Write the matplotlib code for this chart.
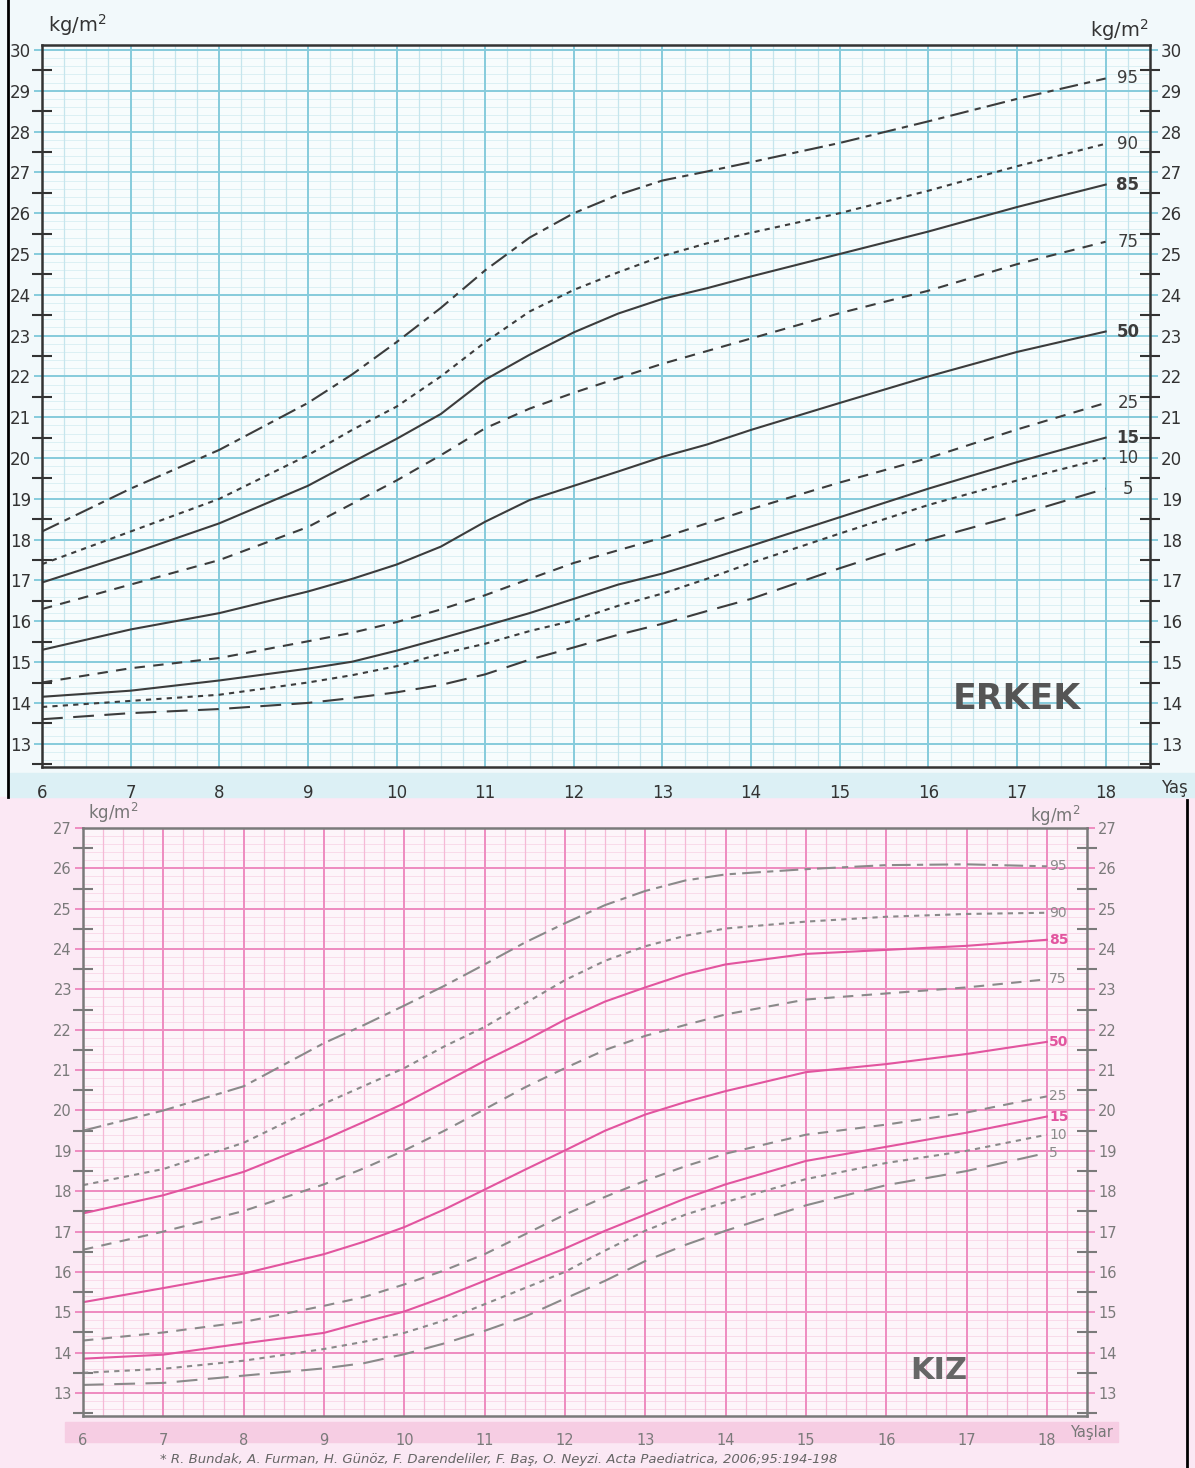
import numpy as np
import matplotlib
matplotlib.use('Agg')
import matplotlib.pyplot as plt
from matplotlib.lines import Line2D
from matplotlib.patches import Rectangle

# ages (years) at which the curves were read
ages = [6, 7, 8, 9, 9.5, 10, 10.5, 11, 11.5, 12, 12.5, 13, 13.5, 14, 15, 16, 17, 18]
age_ticks = [6, 7, 8, 9, 10, 11, 12, 13, 14, 15, 16, 17, 18]
centiles = ['95', '90', '85', '75', '50', '25', '15', '10', '5']

# BMI centiles, boys (ERKEK)
boys = {
    '95': [18.2, 19.25, 20.2, 21.35, 22.05, 22.84, 23.68, 24.6, 25.4, 26.0, 26.45, 26.8, 27.02, 27.25, 27.72, 28.25, 28.8, 29.3],
    '90': [17.4, 18.2, 19.0, 20.07, 20.69, 21.26, 22.0, 22.84, 23.59, 24.12, 24.55, 24.95, 25.26, 25.52, 26.0, 26.55, 27.15, 27.7],
    '85': [16.95, 17.65, 18.4, 19.32, 19.9, 20.47, 21.08, 21.92, 22.53, 23.08, 23.54, 23.9, 24.16, 24.45, 25.0, 25.55, 26.15, 26.7],
    '75': [16.3, 16.9, 17.5, 18.31, 18.88, 19.45, 20.07, 20.73, 21.21, 21.6, 21.96, 22.31, 22.62, 22.93, 23.55, 24.1, 24.75, 25.3],
    '50': [15.3, 15.8, 16.2, 16.73, 17.04, 17.39, 17.83, 18.44, 18.97, 19.32, 19.67, 20.03, 20.33, 20.69, 21.35, 22.0, 22.6, 23.1],
    '25': [14.5, 14.85, 15.1, 15.51, 15.72, 15.98, 16.29, 16.64, 17.04, 17.43, 17.74, 18.05, 18.4, 18.75, 19.4, 20.0, 20.7, 21.35],
    '15': [14.15, 14.3, 14.55, 14.84, 15.01, 15.28, 15.58, 15.89, 16.2, 16.55, 16.9, 17.17, 17.5, 17.85, 18.55, 19.25, 19.9, 20.5],
    '10': [13.9, 14.05, 14.2, 14.5, 14.68, 14.9, 15.2, 15.45, 15.76, 16.02, 16.38, 16.68, 17.04, 17.43, 18.15, 18.85, 19.45, 20.0],
    '5':  [13.6, 13.75, 13.85, 14.0, 14.12, 14.26, 14.44, 14.7, 15.06, 15.36, 15.67, 15.94, 16.25, 16.55, 17.3, 18.0, 18.6, 19.25],
}

# BMI centiles, girls (KIZ)
girls = {
    '95': [19.5, 20.0, 20.6, 21.67, 22.12, 22.6, 23.09, 23.62, 24.16, 24.64, 25.09, 25.44, 25.7, 25.85, 25.98, 26.08, 26.1, 26.05],
    '90': [18.15, 18.55, 19.2, 20.17, 20.61, 21.05, 21.59, 22.07, 22.65, 23.23, 23.71, 24.07, 24.33, 24.51, 24.68, 24.8, 24.87, 24.9],
    '85': [17.45, 17.9, 18.48, 19.28, 19.72, 20.18, 20.7, 21.23, 21.72, 22.25, 22.7, 23.05, 23.38, 23.62, 23.88, 23.98, 24.08, 24.23],
    '75': [16.55, 17.0, 17.51, 18.17, 18.57, 19.01, 19.5, 20.03, 20.57, 21.05, 21.5, 21.85, 22.12, 22.38, 22.75, 22.9, 23.05, 23.25],
    '50': [15.25, 15.6, 15.96, 16.44, 16.75, 17.11, 17.55, 18.04, 18.53, 19.01, 19.5, 19.9, 20.21, 20.48, 20.95, 21.15, 21.4, 21.7],
    '25': [14.3, 14.5, 14.76, 15.16, 15.38, 15.69, 16.04, 16.44, 16.93, 17.42, 17.86, 18.26, 18.62, 18.93, 19.4, 19.65, 19.95, 20.35],
    '15': [13.85, 13.95, 14.23, 14.49, 14.76, 15.02, 15.38, 15.78, 16.18, 16.58, 17.02, 17.42, 17.82, 18.17, 18.75, 19.1, 19.45, 19.85],
    '10': [13.5, 13.6, 13.8, 14.09, 14.27, 14.49, 14.8, 15.2, 15.6, 16.0, 16.53, 17.02, 17.42, 17.73, 18.3, 18.7, 19.0, 19.4],
    '5':  [13.2, 13.25, 13.43, 13.61, 13.74, 13.96, 14.23, 14.54, 14.89, 15.34, 15.78, 16.27, 16.67, 17.02, 17.65, 18.15, 18.5, 18.95],
}

dash = {
    '95': (0, (9, 3, 3, 3)),
    '90': (0, (2.5, 2.5)),
    '85': '-',
    '75': (0, (5, 4)),
    '50': '-',
    '25': (0, (5, 4)),
    '15': '-',
    '10': (0, (2.5, 2.5)),
    '5':  (0, (10, 5)),
}
solid = ['85', '50', '15']

W, H = 1195, 1468
fig = plt.figure(figsize=(W / 100, H / 100), dpi=100)

# page backgrounds
fig.patches.append(Rectangle((0, (H - 797) / H), 1, 797 / H, transform=fig.transFigure,
                             color='#f2f9fb', zorder=-10))
fig.patches.append(Rectangle((0, 0), 1, (H - 797) / H, transform=fig.transFigure,
                             color='#fbe8f4', zorder=-10))
# x label bands
fig.patches.append(Rectangle((10 / W, (H - 797) / H), 1, 24 / H, transform=fig.transFigure,
                             color='#dcf0f5', zorder=-9))
fig.patches.append(Rectangle((65 / W, (H - 1442) / H), (1118 - 65) / W, 20 / H,
                             transform=fig.transFigure, color='#f6cde3', zorder=-9))
# scan borders
fig.lines.append(Line2D([8 / W, 8 / W], [(H - 797) / H, 1], transform=fig.transFigure,
                        color='black', lw=2))
fig.lines.append(Line2D([1187 / W, 1187 / W], [0, (H - 800) / H], transform=fig.transFigure,
                        color='black', lw=2))


def panel(rect, data, ylim, face, major_c, vminor_c, hminor_c, frame_c, tick_c, line_c, hi_c,
          fs, lab_fs, lab_x, lab_ha):
    ax = fig.add_axes(rect)
    ax.set_facecolor(face)
    ax.set_xlim(6, 18.5)
    ax.set_ylim(*ylim)
    # graph paper
    for v in np.arange(np.ceil(ylim[0] * 5) / 5, ylim[1], 0.2):
        if abs(v - round(v)) > 1e-6:
            ax.axhline(v, color=hminor_c, lw=0.7, zorder=0)
    for v in np.arange(6, 18.51, 0.25):
        if abs(v - round(v)) > 1e-6:
            ax.axvline(v, color=vminor_c, lw=0.9, zorder=0)
    for v in np.arange(6, 18.51, 1):
        ax.axvline(v, color=major_c, lw=1.4, zorder=1)
    for v in range(int(np.ceil(ylim[0])), int(ylim[1]) + 1):
        ax.axhline(v, color=major_c, lw=1.4, zorder=1)
    for s in ax.spines.values():
        s.set_color(frame_c)
        s.set_linewidth(1.8)
        s.set_zorder(5)
    ax.set_xticks(age_ticks)
    ax.set_yticks(range(int(np.ceil(ylim[0])), int(ylim[1]) + 1))
    ax.set_yticks(np.arange(np.ceil(ylim[0]) - 0.5, ylim[1], 1), minor=True)
    ax.tick_params(axis='y', which='major', left=True, right=True, labelleft=True,
                   labelright=True, direction='out', length=6, width=1.4, color=major_c,
                   labelcolor=tick_c, labelsize=fs, pad=2)
    ax.tick_params(axis='y', which='minor', left=True, right=True, direction='inout',
                   length=14, width=1.5, color=frame_c)
    ax.tick_params(axis='x', which='major', bottom=False, labelcolor=tick_c,
                   labelsize=fs, pad=9)
    for k in centiles:
        c = hi_c if k in solid else line_c
        ax.plot(ages, data[k], color=c, lw=1.5, linestyle=dash[k], zorder=3,
                solid_joinstyle='round')
        ax.text(lab_x, data[k][-1], k, color=c, fontsize=lab_fs, ha=lab_ha, va='center',
                fontweight='bold' if k in solid else 'normal', zorder=4)
    return ax


top = panel([42 / W, (H - 767) / H, (1150 - 42) / W, (767 - 45) / H], boys, (12.43, 30.12),
            '#f7fcfd', '#86cbdc', '#c6e5ed', '#dcf0f4', '#333333', '#333333', '#3c3c3c',
            '#3c3c3c', 12, 12, 18.25, 'center')
bot = panel([83 / W, (H - 1416) / H, (1087 - 83) / W, (1416 - 828) / H], girls, (12.43, 27),
            '#fdf5fa', '#ee8cc0', '#f5b9d6', '#f9dbea', '#7a7a7a', '#7a7a7a', '#8a8a8a',
            '#e2559f', 10.5, 10, 18.03, 'left')

# unit / axis titles
fig.text(48 / W, 1 - 25 / H, 'kg/m$^2$', fontsize=14, color='#333333', va='center')
fig.text(1090 / W, 1 - 30 / H, 'kg/m$^2$', fontsize=14, color='#333333', va='center')
fig.text(88 / W, 1 - 813 / H, 'kg/m$^2$', fontsize=12, color='#777777', va='center')
fig.text(1030 / W, 1 - 816 / H, 'kg/m$^2$', fontsize=12, color='#777777', va='center')
fig.text(1161 / W, 1 - 788 / H, 'Yaş', fontsize=12, color='#333333', va='center')
fig.text(1070 / W, 1 - 1432 / H, 'Yaşlar', fontsize=10.5, color='#777777', va='center')

top.text(17.0, 14.1, 'ERKEK', fontsize=25, fontweight='bold', color='#555555',
         ha='center', va='center', zorder=5)
bot.text(16.65, 13.55, 'KIZ', fontsize=22, fontweight='bold', color='#666666',
         ha='center', va='center', zorder=5)

fig.text(160 / W, 1 - 1460 / H,
         '* R. Bundak, A. Furman, H. Günöz, F. Darendeliler, F. Baş, O. Neyzi. '
         'Acta Paediatrica, 2006;95:194-198',
         fontsize=9.5, style='italic', color='#666666', va='center')

fig.savefig('out.png', dpi=100)
